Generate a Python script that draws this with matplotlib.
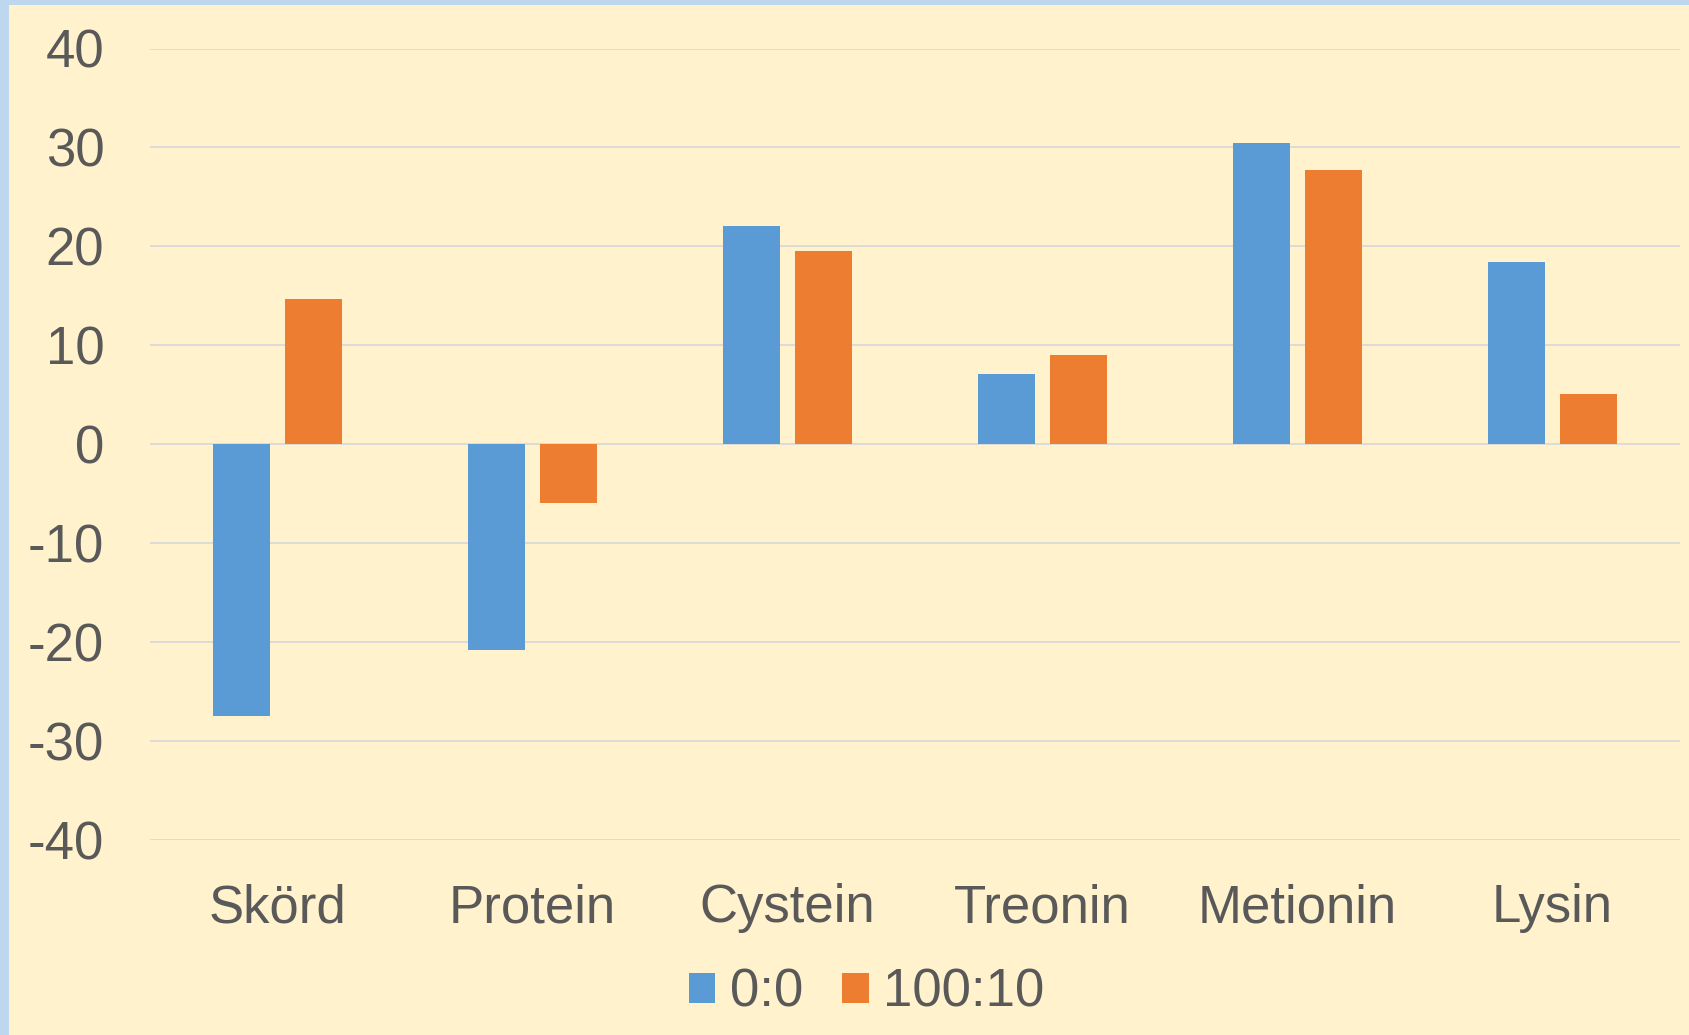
import matplotlib
matplotlib.use("Agg")
import matplotlib.pyplot as plt
import numpy as np
from matplotlib.patches import Rectangle

categories = ["Skörd", "Protein", "Cystein", "Treonin", "Metionin", "Lysin"]
series_names = ["0:0", "100:10"]
vals_00 = [-27.5, -20.8, 22.1, 7.1, 30.4, 18.4]
vals_100 = [14.7, -5.9, 19.5, 9.0, 27.7, 5.1]
yticks = [-40, -30, -20, -10, 0, 10, 20, 30, 40]

BG = "#FFF2CC"
EDGE = "#BDD7EE"
TXT = "#595959"
GRID = "#D9D9D9"
colors = ["#5B9BD5", "#ED7D31"]

plt.rcParams["font.family"] = ["Liberation Sans", "DejaVu Sans"]

fig = plt.figure(figsize=(16.89, 10.35), dpi=100)
fig.patch.set_facecolor(EDGE)
fig.patches.append(Rectangle((9 / 1689, 0), 1, 1 - 5 / 1035, transform=fig.transFigure,
                             facecolor=BG, edgecolor="none", zorder=-10))

ax = fig.add_axes([150 / 1689, 1 - 840 / 1035, (1680 - 150) / 1689, (840 - 48.5) / 1035])
ax.set_facecolor("none")
ax.set_zorder(1)

x = np.arange(len(categories))
w = 0.224
off = 0.1415
ax.bar(x - off, vals_00, w, color=colors[0], label=series_names[0], zorder=3)
ax.bar(x + off, vals_100, w, color=colors[1], label=series_names[1], zorder=3)

ax.set_xlim(-0.5, len(categories) - 0.5)
ax.set_ylim(-40, 40)
ax.set_yticks(yticks)
ax.set_yticklabels([str(t) for t in yticks])
ax.set_xticks(x)
ax.set_xticklabels(categories)
ax.grid(axis="y", color=GRID, linewidth=1.3, zorder=0)
for s in ax.spines.values():
    s.set_visible(False)
ax.tick_params(axis="y", length=0, pad=33, labelsize=38, labelcolor=TXT)
ax.tick_params(axis="x", length=0, pad=31, labelsize=38, labelcolor=TXT)

leg = fig.legend(loc="center", bbox_to_anchor=(0.513, 0.041), ncol=2, frameon=False,
                 fontsize=38, labelcolor=TXT, handlelength=0.51, handleheight=0.51,
                 handletextpad=0.27, columnspacing=0.74, borderaxespad=0)
leg.set_zorder(2)

fig.savefig("out.png", dpi=100, facecolor=fig.get_facecolor())
